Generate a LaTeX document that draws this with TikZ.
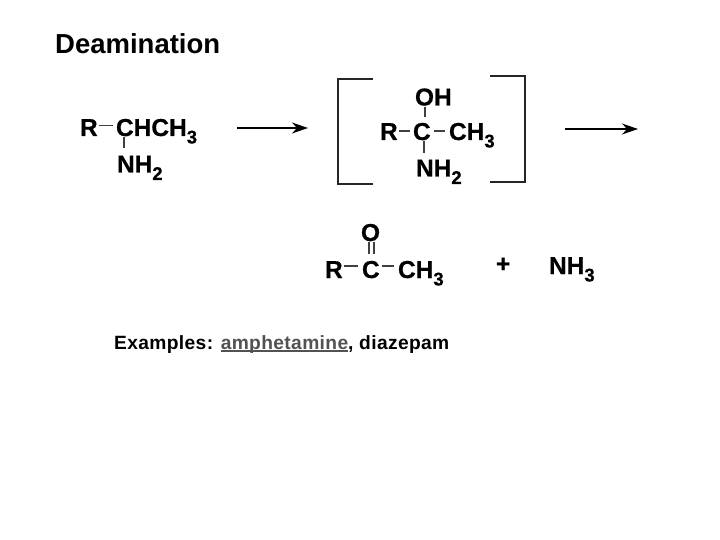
\documentclass[tikz,border=0pt]{standalone}
\usepackage{fontspec}
\setmainfont{Liberation Sans}
\newfontfamily\heavy[BoldFont={Liberation Sans Bold},BoldFeatures={FakeBold=0.6}]{Liberation Sans}
\newfontfamily\spaced[BoldFont={Liberation Sans Bold},BoldFeatures={LetterSpace=1.9}]{Liberation Sans}
\usetikzlibrary{arrows.meta}
\newcommand{\subsc}[1]{\raisebox{-7.5pt}{\fontsize{18.5}{18.5}\selectfont #1}}
\newsavebox{\ulbox}
\newcommand{\lowline}[1]{\sbox{\ulbox}{#1}\rlap{\rule[-2.5pt]{\wd\ulbox}{1.3pt}}\usebox{\ulbox}}
\tikzset{
  atom/.style={anchor=base west,inner sep=0pt,outer sep=0pt,font=\heavy\fontsize{24.5}{24.5}\selectfont\bfseries},
  titletext/.style={anchor=base west,inner sep=0pt,font=\fontsize{27.5}{27.5}\selectfont\bfseries},
  exampletext/.style={anchor=base west,inner sep=0pt,font=\spaced\fontsize{19.2}{19.2}\selectfont\bfseries},
  bond/.style={line width=1.1pt,draw=black!75},
  bracketline/.style={line width=1.2pt,draw=black!85},
  reaction/.style={line width=1.4pt,-{Stealth[length=16pt,width=11pt,inset=5pt]}}
}
\begin{document}
\begin{tikzpicture}[x=1pt,y=-1pt]
\useasboundingbox[fill=white] (0,0) rectangle (720,540);
\node[titletext] (title) at (55,54) {Deamination};
% first molecule
\node[atom] (r1) at (80,136) {R};
\node[atom] (c1) at (116,136) {CHCH\subsc{3}};
\node[atom] (n1) at (117,172.5) {NH\subsc{2}};
\draw[bond] ([xshift=1pt,yshift=10.5pt]r1.base east) -- ([xshift=-3pt,yshift=10.5pt]c1.base west);
\draw[bond] ([xshift=8pt,yshift=-1pt]c1.base west) -- ([xshift=8pt,yshift=-12pt]c1.base west);
% arrow 1
\coordinate (a1s) at (237,128);
\coordinate (a1e) at (308,128);
\draw[reaction] (a1s) -- (a1e);
% brackets
\coordinate (bl1) at (373,79);
\coordinate (bl2) at (338,79);
\coordinate (bl3) at (338,184);
\coordinate (bl4) at (373,184);
\draw[bracketline] (bl1) -- (bl2) -- (bl3) -- (bl4);
\coordinate (br1) at (490,76);
\coordinate (br2) at (525,76);
\coordinate (br3) at (525,182);
\coordinate (br4) at (490,182);
\draw[bracketline] (br1) -- (br2) -- (br3) -- (br4);
% intermediate
\node[atom] (o2) at (415,105.5) {OH};
\node[atom] (r2) at (380,140) {R};
\node[atom] (c2) at (413,140) {C};
\node[atom] (m2) at (449,140) {CH\subsc{3}};
\node[atom] (n2) at (416,176.5) {NH\subsc{2}};
\draw[bond] ([xshift=10pt,yshift=-2pt]o2.base west) -- ([xshift=10pt,yshift=-12pt]o2.base west);
\draw[bond] ([xshift=11pt,yshift=-1pt]c2.base west) -- ([xshift=11pt,yshift=-13pt]c2.base west);
\draw[bond] ([xshift=1pt,yshift=9pt]r2.base east) -- ([xshift=-3pt,yshift=9pt]c2.base west);
\draw[bond] ([xshift=3pt,yshift=9pt]c2.base east) -- ([xshift=-4pt,yshift=9pt]m2.base west);
% arrow 2
\coordinate (a2s) at (565,129);
\coordinate (a2e) at (638,129);
\draw[reaction] (a2s) -- (a2e);
% product
\node[atom] (o3) at (361,241) {O};
\node[atom] (r3) at (325,278) {R};
\node[atom] (c3) at (362,278) {C};
\node[atom] (m3) at (398,278) {CH\subsc{3}};
\draw[bond] ([xshift=1pt,yshift=12pt]r3.base east) -- ([xshift=-4pt,yshift=12pt]c3.base west);
\draw[bond] ([xshift=2pt,yshift=12pt]c3.base east) -- ([xshift=-4pt,yshift=12pt]m3.base west);
\draw[bond] ([xshift=8pt,yshift=-1pt]o3.base west) -- ([xshift=8pt,yshift=-13pt]o3.base west);
\draw[bond] ([xshift=13pt,yshift=-1pt]o3.base west) -- ([xshift=13pt,yshift=-13pt]o3.base west);
\node[atom] (plus) at (496,272) {+};
\node[atom] (nh3) at (549,274) {NH\subsc{3}};
% examples
\node[exampletext] (ex) at (114,349) {Examples: \textcolor{black!68}{\lowline{amphetamine}}, diazepam};
\end{tikzpicture}
\end{document}
